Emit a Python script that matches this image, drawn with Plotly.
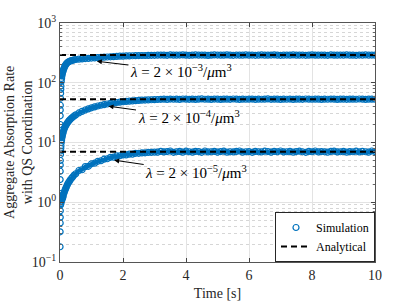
import math
import plotly.graph_objects as go

# ---------------- data ----------------
t_early = [0.002, 0.004, 0.006, 0.008, 0.01, 0.015, 0.02, 0.025, 0.03, 0.04,
           0.05, 0.06, 0.07, 0.08, 0.09, 0.10, 0.12, 0.14, 0.16, 0.18,
           0.20, 0.23, 0.26, 0.29, 0.32, 0.36, 0.40, 0.45]
t_late = [round(0.5 + 0.1 * i, 1) for i in range(96)]  # 0.5 ... 10.0 sampling grid
time = t_early + t_late

sim_high = [12, 20, 28, 35, 42, 55, 67, 78, 88, 105,
            118, 130, 140, 148, 155, 161, 172, 182, 192, 200,
            208, 216, 222, 227, 231, 235, 238, 242,
            245, 248, 251, 254, 256, 259, 261, 263, 266, 268,
            270, 272, 274, 276, 278, 279, 281, 282, 283, 284,
            285, 286, 286, 287, 288, 288,
            289, 291, 290, 288, 292, 290, 289, 291, 293, 290,
            288, 290, 292, 289, 291, 290, 287, 290, 292, 291,
            289, 290, 293, 290, 288, 291, 290, 289, 292, 290,
            291, 288, 290, 292, 289, 290, 291, 293, 290, 288,
            289, 291, 290, 292, 289, 290, 291, 288, 290, 293,
            290, 289, 291, 290, 288, 292, 290, 289, 291, 290,
            292, 289, 290, 288, 291, 290, 292, 289, 291, 290]

sim_mid = [1.4, 2.4, 3.3, 4.2, 5.0, 6.3, 7.2, 8.0, 8.8, 10.0,
           11.0, 12.0, 12.8, 13.6, 14.3, 15.0, 16.2, 17.3, 18.3, 19.2,
           20.0, 21.2, 22.3, 23.3, 24.2, 25.4, 26.5, 27.8,
           29.0, 31.2, 33.2, 35.0, 36.6, 38.1, 39.5, 40.8, 42.0, 43.1,
           44.1, 45.0, 45.9, 46.7, 47.4, 48.1, 48.7, 49.2, 49.7, 50.2,
           50.6, 51.0, 51.3, 51.6, 51.9, 52.1,
           52.4, 52.8, 53.1, 52.6, 53.4, 52.9, 53.2, 52.7, 53.5, 53.0,
           52.8, 53.3, 52.5, 53.1, 53.6, 52.9, 53.0, 52.7, 53.4, 53.1,
           52.6, 53.2, 53.0, 52.8, 53.5, 53.1, 52.7, 53.3, 52.9, 53.0,
           53.4, 52.6, 53.1, 52.9, 53.2, 53.6, 52.8, 53.0, 53.3, 52.7,
           53.1, 52.9, 53.4, 52.6, 53.0, 53.2, 52.8, 53.5, 53.1, 52.9,
           53.0, 53.3, 52.7, 53.1, 52.9, 53.4, 53.0, 52.6, 53.2, 53.1,
           52.8, 53.3, 53.0, 52.9, 53.5, 53.1, 52.7, 53.2, 53.0, 52.9]

sim_low = [0.18, 0.32, 0.45, 0.56, 0.72, 0.90, 1.0, 1.1, 0.95, 1.15,
           1.05, 1.2, 1.3, 1.15, 1.3, 1.25, 1.4, 1.5, 1.6, 1.7,
           1.8, 1.95, 2.1, 2.2, 2.35, 2.5, 2.65, 2.85,
           3.0, 3.4, 3.5, 3.95, 4.0, 4.4, 4.5, 4.85, 4.95, 5.25,
           5.35, 5.65, 5.7, 5.95, 6.0, 6.2, 6.2, 6.4, 6.4, 6.6,
           6.6, 6.7, 6.72, 6.82, 6.85, 6.9,
           6.9, 7.1, 6.95, 7.05, 7.2, 6.85, 7.0, 7.1, 6.9, 7.15,
           7.0, 6.9, 7.1, 7.05, 6.85, 7.2, 6.95, 7.0, 7.1, 6.9,
           7.05, 7.15, 6.9, 7.0, 6.95, 7.1, 7.2, 6.9, 7.0, 7.05,
           6.85, 7.1, 7.0, 6.95, 7.15, 7.05, 6.9, 7.1, 7.0, 7.2,
           6.95, 7.0, 7.1, 6.9, 7.05, 7.15, 7.0, 6.85, 7.1, 7.0,
           7.2, 6.95, 7.05, 7.0, 6.9, 7.1, 7.15, 6.95, 7.0, 7.1,
           6.9, 7.05, 7.0, 7.15, 6.95, 7.1, 7.0, 6.9, 7.2, 7.05]

analytical_levels = [290, 53, 7.0]
analytical_t = [0, 10]

labels = ["<i>λ</i> = 2 × 10<sup>−3</sup>/<i>μ</i>m<sup>3</sup>",
          "<i>λ</i> = 2 × 10<sup>−4</sup>/<i>μ</i>m<sup>3</sup>",
          "<i>λ</i> = 2 × 10<sup>−5</sup>/<i>μ</i>m<sup>3</sup>"]
label_tip_t = [1.17, 1.54, 1.72]
label_tip_v = [229, 40.5, 5.06]

y_tickvals = [0.1, 1, 10, 100, 1000]
y_ticktext = ["10<sup>−1</sup>", "10<sup>0</sup>", "10<sup>1</sup>", "10<sup>2</sup>", "10<sup>3</sup>"]

# ---------------- figure ----------------
FONT = "Liberation Serif"
BLUE = "#0072BD"

fig = go.Figure()

n_fill_start = 10  # the dense band (markers overlap into a solid stroke)
for series in [sim_high, sim_mid, sim_low]:
    fig.add_trace(go.Scatter(
        x=time[n_fill_start:], y=series[n_fill_start:], mode="lines",
        showlegend=False, hoverinfo="skip",
        line=dict(color=BLUE, width=4),
    ))

for i, series in enumerate([sim_high, sim_mid, sim_low]):
    fig.add_trace(go.Scatter(
        x=time, y=series, mode="markers", name="Simulation",
        legendgroup="sim", showlegend=(i == 0),
        marker=dict(symbol="circle-open", size=6, color=BLUE, line=dict(width=1.2, color=BLUE)),
    ))

for i, lvl in enumerate(analytical_levels):
    fig.add_trace(go.Scatter(
        x=analytical_t, y=[lvl, lvl], mode="lines", name="Analytical",
        legendgroup="ana", showlegend=(i == 0),
        line=dict(color="black", width=2, dash="6px,4px"),
    ))

offsets = [(84, 10), (80, 11), (82, 12)]
for txt, tt, vv, (ax, ay) in zip(labels, label_tip_t, label_tip_v, offsets):
    fig.add_annotation(
        x=tt, y=math.log10(vv), xref="x", yref="y", text=txt,
        showarrow=True, arrowhead=2, arrowsize=1, arrowwidth=1, arrowcolor="black",
        ax=ax, ay=ay, font=dict(family=FONT, size=15, color="black"),
    )

# y-axis title (two lines, rotated)
fig.add_annotation(
    x=-0.132, y=0.5, xref="paper", yref="paper", xanchor="center", yanchor="middle",
    text="Aggregate Absorption Rate<br>with QS Coordination", textangle=-90,
    showarrow=False, font=dict(family=FONT, size=14, color="#262626"),
)

minor_vals = [m * 10 ** k for k in range(-1, 3) for m in range(2, 10)]

fig.update_xaxes(
    range=[0, 10], dtick=2, tick0=0, automargin=False,
    ticks="inside", ticklen=4, tickcolor="#444",
    showline=True, linecolor="#555", linewidth=1, mirror="allticks",
    showgrid=True, gridcolor="#e3e3e3", gridwidth=1, zeroline=False,
    tickfont=dict(family=FONT, size=14, color="#262626"),
    title=dict(text="Time [s]", font=dict(family=FONT, size=14, color="#262626"), standoff=6),
)
fig.update_yaxes(
    type="log", range=[-1, 3], automargin=False,
    tickvals=y_tickvals, ticktext=y_ticktext,
    ticks="inside", ticklen=4, tickcolor="#444",
    showline=True, linecolor="#555", linewidth=1, mirror="allticks",
    showgrid=True, gridcolor="#e3e3e3", gridwidth=1, zeroline=False,
    minor=dict(tickvals=minor_vals, ticks="inside", ticklen=2, tickcolor="#666",
               showgrid=True, gridcolor="#d6d6d6", griddash="dot", gridwidth=1),
    tickfont=dict(family=FONT, size=14, color="#262626"),
)

fig.update_layout(
    width=407, height=305,
    margin=dict(l=60, r=32, t=23, b=43),
    plot_bgcolor="white", paper_bgcolor="white",
    font=dict(family=FONT, size=14, color="#262626"),
    legend=dict(x=1, y=0.0, xanchor="right", yanchor="bottom",
                bgcolor="white", bordercolor="#262626", borderwidth=1,
                font=dict(family=FONT, size=12, color="black"),
                tracegroupgap=0, itemwidth=30),
    showlegend=True,
)

fig.write_html("out.html", config={"displayModeBar": False},
               post_script="document.body.style.margin='0';document.body.style.padding='0';")
